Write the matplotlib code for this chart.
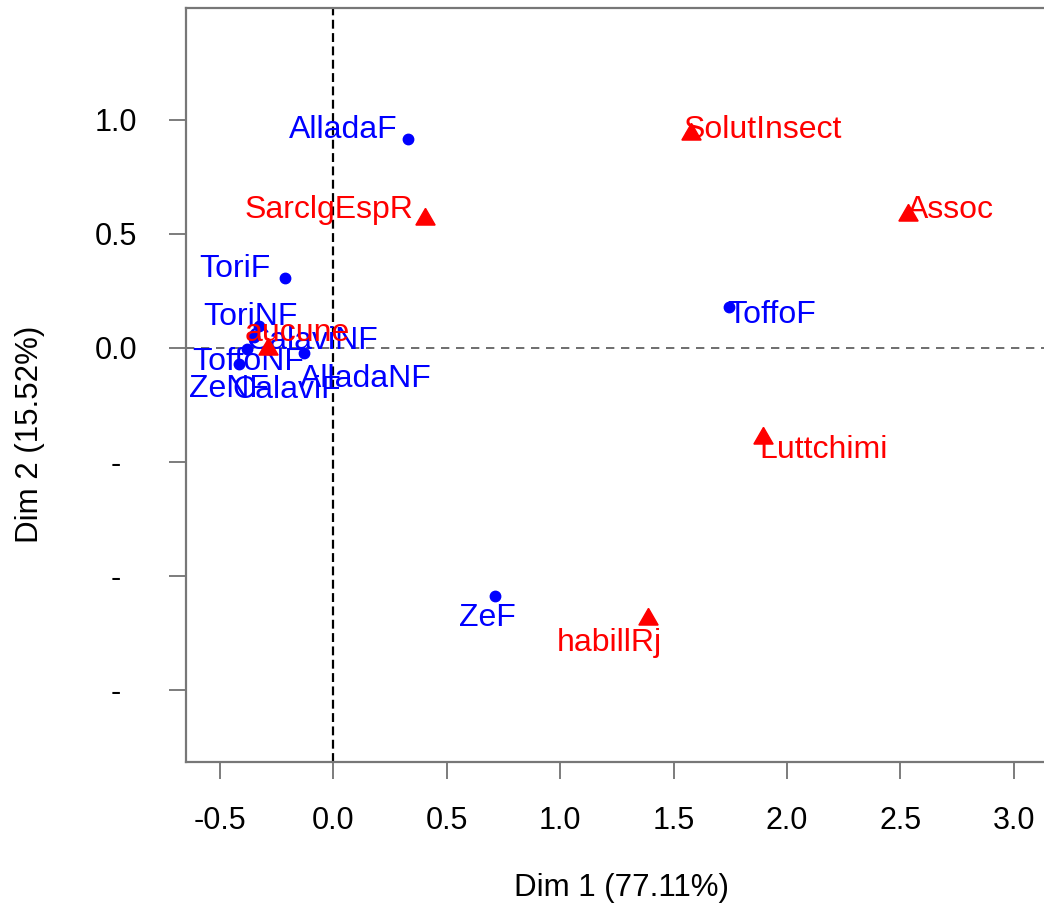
import numpy as np
import matplotlib
matplotlib.use("Agg")
import matplotlib.pyplot as plt

plt.rcParams['font.family'] = ['Liberation Sans', 'DejaVu Sans']

# row points (blue)
rowNames = ["AlladaF", "ToriF", "ToriNF", "CalaviNF", "ToffoNF", "ZeNF",
            "AlladaNF", "CalaviF", "ToffoF", "ZeF"]
rowX = [0.328, -0.213, -0.328, -0.350, -0.381, -0.416, -0.130, -0.288, 1.744, 0.712]
rowY = [0.917, 0.307, 0.096, 0.048, -0.004, -0.070, -0.022, -0.004, 0.180, -1.088]
rowLabX = [0.042, -0.434, -0.367, -0.094, -0.377, -0.460, 0.143, -0.204, 1.933, 0.681]
rowLabY = [0.955, 0.345, 0.135, 0.030, -0.063, -0.181, -0.137, -0.185, 0.144, -1.185]

# column points (red)
colNames = ["SolutInsect", "SarclgEspR", "Assoc", "aucune", "Luttchimi", "habillRj"]
colX = [1.576, 0.404, 2.532, -0.288, 1.893, 1.387]
colY = [0.939, 0.566, 0.583, -0.004, -0.395, -1.189]
colLabX = [1.894, -0.020, 2.722, -0.161, 2.162, 1.215]
colLabY = [0.955, 0.604, 0.604, 0.065, -0.449, -1.295]

xTicks = [-0.5, 0.0, 0.5, 1.0, 1.5, 2.0, 2.5, 3.0]
yTicks = [-1.5, -1.0, -0.5, 0.0, 0.5, 1.0]
yTickLabels = ["-", "-", "-", "0.0", "0.5", "1.0"]

W, H = 1044, 909
fig = plt.figure(figsize=(W / 100, H / 100), dpi=100)
ax = fig.add_axes([186 / W, (H - 762) / H, (1058 - 186) / W, (762 - 7.5) / H])

ax.axvline(0, color="black", lw=1.6, ls=(0, (4, 2)), zorder=1)
ax.axhline(0, color="#555555", lw=1.2, ls=(0, (5, 4)), zorder=1)

ax.plot(rowX, rowY, "o", color="blue", ms=7.5, ls="none", zorder=2)
for name, x, y in zip(rowNames, rowLabX, rowLabY):
    ax.text(x, y, name, color="blue", fontsize=23, ha="center", va="center", zorder=3)

ax.plot(colX, colY, marker=(3, 0, 0), color="red", ms=16, ls="none", zorder=4)
for name, x, y in zip(colNames, colLabX, colLabY):
    ax.text(x, y, name, color="red", fontsize=23, ha="center", va="center", zorder=5)

ax.set_xlim(-0.65, 3.195)
ax.set_ylim(-1.816, 1.493)

ax.set_xticks(xTicks)
ax.set_xticklabels([f"{v:.1f}" for v in xTicks])
ax.set_yticks(yTicks)
ax.set_yticklabels(yTickLabels, ha="center")
ax.tick_params(axis="both", labelsize=22, length=12.5, width=1.2, color="#666666")
ax.tick_params(axis="x", pad=19)
ax.tick_params(axis="y", pad=38)

for s in ax.spines.values():
    s.set_color("#777777")
    s.set_linewidth(1.6)

fig.text(621 / W, 1 - 888 / H, "Dim 1 (77.11%)", fontsize=22.5, ha="center", va="center")
fig.text(30 / W, 1 - 434 / H, "Dim 2 (15.52%)", fontsize=22.5, ha="center", va="center",
         rotation=90)

fig.savefig("out.png", dpi=100)
